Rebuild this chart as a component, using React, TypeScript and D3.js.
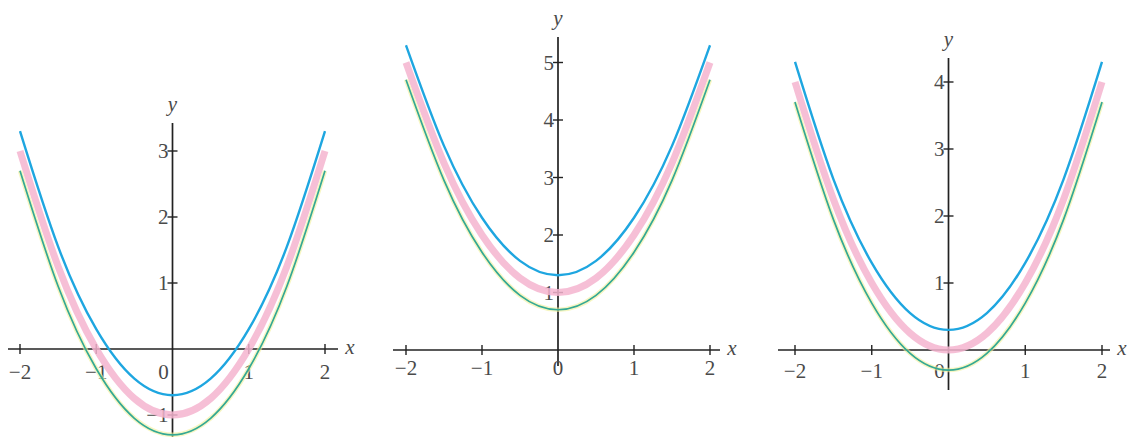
import React from 'react';
import * as d3 from 'd3';

// sample x positions shared by every curve
const xs = [-2, -1.5, -1, -0.5, 0, 0.5, 1, 1.5, 2];

// panel 1: shifted down by one
const p1Blue = [3.3, 1.55, 0.3, -0.45, -0.7, -0.45, 0.3, 1.55, 3.3];
const p1Pink = [3, 1.25, 0, -0.75, -1, -0.75, 0, 1.25, 3];
const p1Green = [2.7, 0.95, -0.3, -1.05, -1.3, -1.05, -0.3, 0.95, 2.7];

// panel 2: shifted up by one
const p2Blue = [5.3, 3.55, 2.3, 1.55, 1.3, 1.55, 2.3, 3.55, 5.3];
const p2Pink = [5, 3.25, 2, 1.25, 1, 1.25, 2, 3.25, 5];
const p2Green = [4.7, 2.95, 1.7, 0.95, 0.7, 0.95, 1.7, 2.95, 4.7];

// panel 3: not shifted
const p3Blue = [4.3, 2.55, 1.3, 0.55, 0.3, 0.55, 1.3, 2.55, 4.3];
const p3Pink = [4, 2.25, 1, 0.25, 0, 0.25, 1, 2.25, 4];
const p3Green = [3.7, 1.95, 0.7, -0.05, -0.3, -0.05, 0.7, 1.95, 3.7];

const xTicks = [-2, -1, 0, 1, 2];
const p1YTicks = [-1, 1, 2, 3];
const p2YTicks = [1, 2, 3, 4, 5];
const p3YTicks = [1, 2, 3, 4];

const W = 1139;
const H = 437;

const panels = [
  { x0: 20, x1: 325, y0: 349, unit: 66, axTop: 123, axBottom: 440, axLeft: 8, axRight: 338, labelDy: 30,
    blue: p1Blue, pink: p1Pink, green: p1Green, yTicks: p1YTicks, zeroLeft: true },
  { x0: 406, x1: 710, y0: 350, unit: 57.5, axTop: 37, axBottom: 366, axLeft: 393, axRight: 720, labelDy: 25,
    blue: p2Blue, pink: p2Pink, green: p2Green, yTicks: p2YTicks, zeroLeft: false },
  { x0: 795, x1: 1102, y0: 350, unit: 67, axTop: 58, axBottom: 390, axLeft: 778, axRight: 1110, labelDy: 28,
    blue: p3Blue, pink: p3Pink, green: p3Green, yTicks: p3YTicks, zeroLeft: true },
];

const fmt = (v: number) => (v < 0 ? '\u2212' + Math.abs(v) : String(v));

const textStyle = { fontFamily: 'Liberation Serif, DejaVu Serif, serif', fontSize: '21px', fill: '#4a4a4a' };

const Panel = ({ p }: { p: any }) => {
  const x = d3.scaleLinear().domain([-2, 2]).range([p.x0, p.x1]);
  const y = d3.scaleLinear().domain([0, 1]).range([p.y0, p.y0 - p.unit]);
  const line = (vals: number[]) =>
    d3.line<number>()
      .x((_, i) => x(xs[i]))
      .y(d => y(d))
      .curve(d3.curveNatural)(vals) || '';
  const cx = x(0);

  return (
    <g>
      {/* axes */}
      <line x1={p.axLeft} x2={p.axRight} y1={p.y0} y2={p.y0} stroke="#222" strokeWidth={1.7} />
      <line x1={cx} x2={cx} y1={p.axTop} y2={p.axBottom} stroke="#222" strokeWidth={1.7} />
      {xTicks.filter(t => t !== 0).map(t => (
        <g key={'xt' + t}>
          <line x1={x(t)} x2={x(t)} y1={p.y0 - 5} y2={p.y0 + 5} stroke="#222" strokeWidth={1.4} />
          <text x={x(t)} y={p.y0 + p.labelDy} textAnchor="middle" style={textStyle}>{fmt(t)}</text>
        </g>
      ))}
      <text x={p.zeroLeft ? cx - 9 : cx} y={p.y0 + p.labelDy} textAnchor="middle" style={textStyle}>0</text>
      {p.yTicks.map((t: number) => (
        <g key={'yt' + t}>
          <line x1={cx - 5} x2={cx + 5} y1={y(t)} y2={y(t)} stroke="#222" strokeWidth={1.4} />
          <text x={cx - 4} y={y(t) + 7} textAnchor="end" style={textStyle}>{fmt(t)}</text>
        </g>
      ))}
      <text x={p.axRight + 12} y={p.y0 + 5} textAnchor="middle" style={{ ...textStyle, fontStyle: 'italic' }}>x</text>
      <text x={cx} y={p.axTop - 12} textAnchor="middle" style={{ ...textStyle, fontStyle: 'italic' }}>y</text>

      {/* curves */}
      <path d={line(p.pink)} fill="none" stroke="#f4b4cf" strokeWidth={7} opacity={0.85} />
      <path d={line(p.green)} fill="none" stroke="#f2f09a" strokeWidth={4.5} opacity={0.6} />
      <path d={line(p.green)} fill="none" stroke="#34a894" strokeWidth={1.7} />
      <path d={line(p.blue)} fill="none" stroke="#1ea6e0" strokeWidth={2.4} />
    </g>
  );
};

export default function App() {
  return (
    <svg width={W} height={H} style={{ position: 'absolute', left: 0, top: 0, background: '#fff' }}>
      {panels.map((p, i) => <Panel key={i} p={p} />)}
    </svg>
  );
}
